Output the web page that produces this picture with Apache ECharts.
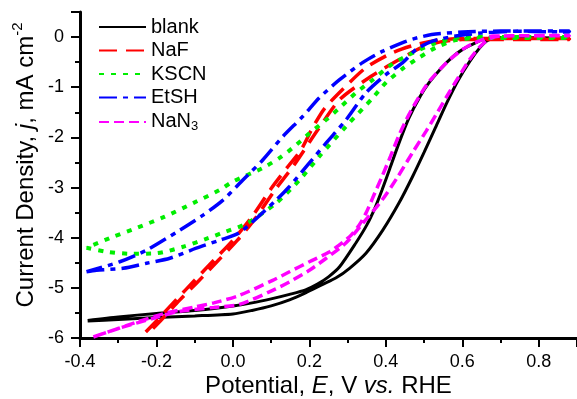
<!DOCTYPE html>
<html>
<head>
<meta charset="utf-8">
<script src="https://cdn.jsdelivr.net/npm/echarts@6/dist/echarts.min.js"></script>
<style>
html,body{margin:0;padding:0;background:#fff;}
#c{width:577px;height:399px;}
</style>
</head>
<body>
<div id="c"></div>
<script>
// Tick values
const xTicks = [-0.4, -0.2, 0.0, 0.2, 0.4, 0.6, 0.8];
const yTicks = [-6, -5, -4, -3, -2, -1, 0];
const seriesNames = ['blank', 'NaF', 'KSCN', 'EtSH', 'NaN3'];

// blank (forward then return scan)
const blankE = [-0.38,-0.3,-0.2,-0.1,0.0,0.05,0.1,0.148,0.19,0.235,0.27,0.305,0.348,0.392,0.435,0.47,0.50,0.53,0.56,0.59,0.62,0.645,0.665,0.69,0.88,
  0.88,0.70,0.66,0.636,0.60,0.574,0.545,0.514,0.49,0.46,0.435,0.41,0.39,0.372,0.35,0.322,0.279,0.25,0.22,0.19,0.148,0.1,0.05,0.0,-0.1,-0.2,-0.3,-0.38];
const blankJ = [-5.66,-5.63,-5.59,-5.56,-5.52,-5.45,-5.36,-5.24,-5.1,-4.93,-4.8,-4.61,-4.31,-3.85,-3.3,-2.78,-2.3,-1.8,-1.3,-0.85,-0.48,-0.22,-0.07,-0.02,-0.02,
  -0.01,-0.01,-0.04,-0.11,-0.25,-0.4,-0.62,-0.9,-1.18,-1.62,-2.1,-2.63,-3.05,-3.4,-3.75,-4.1,-4.58,-4.78,-4.93,-5.04,-5.13,-5.22,-5.3,-5.36,-5.45,-5.51,-5.58,-5.65];

// NaF
const nafE = [-0.228,-0.2,-0.15,-0.1,-0.05,0.0,0.05,0.1,0.144,0.178,0.209,0.24,0.29,0.348,0.418,0.479,0.54,0.6,0.7,0.88,
  0.88,0.7,0.6,0.54,0.49,0.444,0.40,0.348,0.279,0.222,0.16,0.11,0.06,0.012,-0.038,-0.088,-0.14,-0.19,-0.215];
const nafJ = [-5.88,-5.66,-5.25,-4.85,-4.45,-4.05,-3.58,-3.02,-2.58,-2.25,-1.8,-1.42,-1.02,-0.61,-0.31,-0.15,-0.06,-0.03,-0.03,-0.03,
  -0.05,-0.05,-0.05,-0.1,-0.22,-0.41,-0.6,-0.85,-1.25,-1.85,-2.55,-3.05,-3.6,-4.05,-4.45,-4.85,-5.25,-5.66,-5.86];

// KSCN
const kscnE = [-0.383,-0.33,-0.27,-0.2,-0.13,-0.065,-0.03,0.035,0.113,0.174,0.226,0.296,0.366,0.40,0.444,0.487,0.531,0.583,0.65,0.88,
  0.88,0.6,0.53,0.453,0.409,0.366,0.322,0.279,0.244,0.2,0.161,0.122,0.078,0.0,-0.035,-0.104,-0.178,-0.25,-0.313,-0.383];
const kscnJ = [-4.2,-4.28,-4.32,-4.31,-4.18,-4.01,-3.91,-3.72,-3.31,-2.85,-2.38,-1.78,-1.21,-0.91,-0.63,-0.41,-0.21,-0.06,-0.02,-0.02,
  0.0,0.0,-0.12,-0.38,-0.58,-0.85,-1.11,-1.41,-1.65,-1.92,-2.18,-2.41,-2.61,-2.88,-3.05,-3.31,-3.58,-3.8,-3.98,-4.2];

// EtSH
const etshE = [-0.383,-0.357,-0.287,-0.226,-0.165,-0.096,-0.035,0.017,0.113,0.148,0.2,0.244,0.296,0.348,0.40,0.444,0.479,0.522,0.583,0.65,0.75,0.88,
  0.88,0.7,0.6,0.52,0.47,0.444,0.392,0.339,0.279,0.226,0.183,0.131,0.078,0.026,-0.026,-0.078,-0.139,-0.226,-0.296,-0.383];
const etshJ = [-4.68,-4.65,-4.61,-4.51,-4.41,-4.21,-4.05,-3.9,-3.25,-2.98,-2.51,-2.11,-1.65,-1.11,-0.75,-0.51,-0.25,-0.08,0.02,0.08,0.12,0.12,
  0.1,0.12,0.1,0.05,-0.04,-0.11,-0.28,-0.51,-0.85,-1.21,-1.58,-1.98,-2.45,-2.85,-3.25,-3.55,-3.85,-4.25,-4.48,-4.68];

// NaN3
const nan3E = [-0.365,-0.3,-0.2,-0.14,-0.05,0.017,0.104,0.148,0.2,0.244,0.296,0.339,0.39,0.43,0.47,0.505,0.535,0.566,0.59,0.618,0.645,0.67,0.70,0.88,
  0.88,0.68,0.653,0.63,0.60,0.56,0.514,0.49,0.46,0.435,0.412,0.39,0.366,0.348,0.33,0.305,0.253,0.2,0.148,0.104,0.017,-0.05,-0.1,-0.183,-0.25,-0.3,-0.365];
const nan3J = [-5.98,-5.81,-5.59,-5.47,-5.39,-5.33,-5.05,-4.88,-4.65,-4.41,-4.1,-3.72,-3.25,-2.8,-2.3,-1.88,-1.5,-1.1,-0.8,-0.46,-0.2,-0.04,0.02,0.03,
  0.04,0.02,-0.05,-0.12,-0.25,-0.5,-0.88,-1.15,-1.55,-1.95,-2.38,-2.78,-3.2,-3.51,-3.75,-3.98,-4.28,-4.48,-4.68,-4.85,-5.15,-5.3,-5.38,-5.52,-5.68,-5.81,-5.98];

function zip(a, b) { return a.map((v, i) => [v, b[i]]); }

const FONT = "'Liberation Sans', Arial, sans-serif";
const styles = [
  { color: '#000000', width: 3, type: 'solid' },
  { color: '#ff0000', width: 3.5, type: [18, 9] },
  { color: '#00ee00', width: 4, type: [5, 7] },
  { color: '#0000ff', width: 3.5, type: [18, 6, 5, 6] },
  { color: '#ff00ff', width: 3.5, type: [10, 5] }
];
const dataSets = [zip(blankE, blankJ), zip(nafE, nafJ), zip(kscnE, kscnJ), zip(etshE, etshJ), zip(nan3E, nan3J)];

const chart = echarts.init(document.getElementById('c'), null, { renderer: 'canvas' });
chart.setOption({
  animation: false,
  backgroundColor: '#ffffff',
  grid: { left: 80, right: 0, top: 12, bottom: 61, containLabel: false, outerBoundsMode: 'none' },
  legend: {
    orient: 'vertical', left: 98, top: 17, itemWidth: 47, itemHeight: 14, itemGap: 3.5, padding: 0,
    data: seriesNames,
    itemStyle: { opacity: 0 },
    textStyle: { fontFamily: FONT, fontSize: 20, color: '#000',
      rich: { sub: { fontFamily: FONT, fontSize: 13, color: '#000', padding: [9, 0, 0, 0], verticalAlign: 'bottom' },
              m: { fontFamily: FONT, fontSize: 20, color: '#000', verticalAlign: 'top', lineHeight: 20 } } },
    formatter: function (n) { return n === 'NaN3' ? '{m|NaN}{sub|3}' : n; }
  },
  xAxis: {
    type: 'value', min: -0.4, max: 0.9, interval: 0.2,
    name: '{n|Potential, }{i|E}{n|, V }{i|vs.}{n| RHE}',
    nameLocation: 'middle', nameGap: 36, nameMoveOverlap: false,
    nameTextStyle: { fontFamily: FONT, fontSize: 24, color: '#000',
      rich: { n: { fontFamily: FONT, fontSize: 24, color: '#000' }, i: { fontFamily: FONT, fontSize: 24, fontStyle: 'italic', color: '#000' } } },
    axisLine: { show: true, onZero: false, lineStyle: { color: '#000', width: 3 } },
    axisTick: { show: true, inside: false, length: 9, lineStyle: { color: '#000', width: 2 } },
    minorTick: { show: true, splitNumber: 2, length: 5, lineStyle: { color: '#000', width: 2 } },
    axisLabel: { fontFamily: FONT, fontSize: 18, color: '#000', margin: 15, showMaxLabel: false,
      formatter: function (v) { return xTicks.some(t => Math.abs(t - v) < 1e-9) ? v.toFixed(1) : ''; } },
    splitLine: { show: false }
  },
  yAxis: {
    type: 'value', min: -6, max: 0.5, interval: 1,
    name: '{n|Current Density, }{i|j}{n|, mA cm}{s|-2}',
    nameLocation: 'middle', nameGap: 42, nameRotate: 90, nameMoveOverlap: false,
    nameTextStyle: { fontFamily: FONT, fontSize: 24, color: '#000', padding: [0, 0, 0, 20],
      rich: { n: { fontFamily: FONT, fontSize: 24, color: '#000', verticalAlign: 'bottom' },
              i: { fontFamily: FONT, fontSize: 24, fontStyle: 'italic', color: '#000', verticalAlign: 'bottom' },
              s: { fontFamily: FONT, fontSize: 15, color: '#000', verticalAlign: 'top', padding: [0, 0, 13, 0] } } },
    axisLine: { show: true, onZero: false, lineStyle: { color: '#000', width: 3 } },
    axisTick: { show: true, inside: false, length: 9, lineStyle: { color: '#000', width: 2 } },
    minorTick: { show: true, splitNumber: 2, length: 5, lineStyle: { color: '#000', width: 2 } },
    axisLabel: { fontFamily: FONT, fontSize: 18, color: '#000', margin: 16, showMaxLabel: false,
      formatter: function (v) { return yTicks.indexOf(Math.round(v)) >= 0 && Math.abs(v - Math.round(v)) < 1e-9 ? String(Math.round(v)) : ''; } },
    splitLine: { show: false }
  },
  series: seriesNames.map((name, k) => ({
    name: name, type: 'line', data: dataSets[k], showSymbol: false, symbol: 'none',
    smooth: 0.25, clip: true,
    itemStyle: { color: styles[k].color },
    lineStyle: { color: styles[k].color, width: styles[k].width, type: styles[k].type, cap: 'butt' },
    emphasis: { disabled: true }
  }))
});
</script>
</body>
</html>
